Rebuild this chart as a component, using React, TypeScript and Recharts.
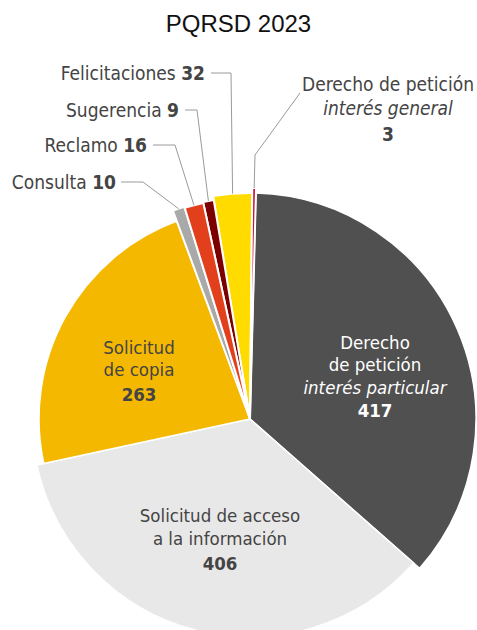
import { PieChart, Pie, Cell } from 'recharts'

const categories = [
  'Derecho de petición interés particular',
  'Solicitud de acceso a la información',
  'Solicitud de copia',
  'Consulta',
  'Reclamo',
  'Sugerencia',
  'Felicitaciones',
  'Derecho de petición interés general',
]
const values = [417, 406, 263, 10, 16, 9, 32, 3]

const COLORS = ['#505050', '#e8e8e8', '#f5b800', '#a9a9a9', '#e2401c', '#7d0000', '#ffdb00', '#c8143c']
const RADII = [226, 218, 211, 222, 221, 222, 226, 231]

const data = categories.map((name, i) => ({ name, value: values[i] }))

const FONT = "'DejaVu Sans Condensed', 'Liberation Sans Narrow', sans-serif"
const TEXT = '#444444'

// text lines inside the big slices: [text, style, y]
const innerLabels: Record<number, { x: number; color: string; lines: [string, string, number][] }> = {
  0: {
    x: 375,
    color: '#ffffff',
    lines: [['Derecho', 'normal', 342], ['de petición', 'normal', 364], ['interés particular', 'italic', 387], [String(values[0]), 'bold', 410]],
  },
  1: {
    x: 220,
    color: TEXT,
    lines: [['Solicitud de acceso', 'normal', 515], ['a la información', 'normal', 538], [String(values[1]), 'bold', 563]],
  },
  2: {
    x: 139,
    color: TEXT,
    lines: [['Solicitud', 'normal', 347], ['de copia', 'normal', 369], [String(values[2]), 'bold', 394]],
  },
}

// callouts for the thin slices: elbow point, end of the horizontal line, text position
const callouts: Record<number, { elbow: [number, number]; end: number; tx: number }> = {
  3: { elbow: [143, 182], end: 121, tx: 116 },
  4: { elbow: [175, 145], end: 153, tx: 147 },
  5: { elbow: [197, 110], end: 185, tx: 179 },
  6: { elbow: [231, 73], end: 211, tx: 205 },
}

const RAD = Math.PI / 180

const renderLabel = (props: any) => {
  const { cx, cy, midAngle, index } = props
  const r = RADII[index]
  const px = cx + r * Math.cos(-midAngle * RAD)
  const py = cy + r * Math.sin(-midAngle * RAD)

  const inner = innerLabels[index]
  if (inner) {
    return (
      <g key={`lbl-${index}`}>
        {inner.lines.map(([t, st, y], i) => (
          <text
            key={i}
            x={inner.x}
            y={y + 7}
            textAnchor="middle"
            fill={inner.color}
            fontFamily={FONT}
            fontSize={18.5}
            fontStyle={st === 'italic' ? 'italic' : 'normal'}
            fontWeight={st === 'bold' ? 700 : 400}
          >
            {t}
          </text>
        ))}
      </g>
    )
  }

  const c = callouts[index]
  if (c) {
    const [ex, ey] = c.elbow
    return (
      <g key={`lbl-${index}`}>
        <polyline points={`${px},${py} ${ex},${ey} ${c.end},${ey}`} fill="none" stroke="#9a9a9a" strokeWidth={1} />
        <text x={c.tx} y={ey + 7} textAnchor="end" fill={TEXT} fontFamily={FONT} fontSize={19}>
          {categories[index]} <tspan fontWeight={700}>{values[index]}</tspan>
        </text>
      </g>
    )
  }

  // Derecho de petición interés general
  return (
    <g key={`lbl-${index}`}>
      <polyline points={`${px},${py} 255,155 300,93`} fill="none" stroke="#9a9a9a" strokeWidth={1} />
      <text x={388} y={91} textAnchor="middle" fill={TEXT} fontFamily={FONT} fontSize={19}>
        Derecho de petición
      </text>
      <text x={388} y={115} textAnchor="middle" fill={TEXT} fontFamily={FONT} fontSize={19} fontStyle="italic">
        interés general
      </text>
      <text x={388} y={141} textAnchor="middle" fill={TEXT} fontFamily={FONT} fontSize={19} fontWeight={700}>
        {values[index]}
      </text>
    </g>
  )
}

const radiusGroups = Array.from(new Set(RADII))

export default function App() {
  return (
    <div style={{ position: 'absolute', left: 0, top: 0, width: 477, height: 630, background: '#fff' }}>
      <div
        style={{
          position: 'absolute',
          top: 10,
          width: 477,
          textAlign: 'center',
          fontFamily: "'Liberation Sans', Arial, sans-serif",
          fontSize: 24,
          color: '#111',
        }}
      >
        PQRSD 2023
      </div>
      <PieChart
        width={477}
        height={630}
        margin={{ top: 0, right: 0, bottom: 0, left: 0 }}
        style={{ position: 'absolute', left: 0, top: 0 }}
      >
        {radiusGroups.map((r) => (
          <Pie
            key={`pie-${r}`}
            data={data}
            dataKey="value"
            nameKey="name"
            cx={250}
            cy={419}
            innerRadius={0}
            outerRadius={r}
            startAngle={88.5}
            endAngle={-271.5}
            isAnimationActive={false}
          >
            {data.map((entry, i) => (
              <Cell
                key={`cell-${r}-${i}`}
                fill={RADII[i] === r ? COLORS[i] : 'transparent'}
                stroke={RADII[i] === r ? '#ffffff' : 'none'}
                strokeWidth={values[i] < 50 ? 2 : 1.5}
              />
            ))}
          </Pie>
        ))}
        <Pie
          data={data}
          dataKey="value"
          nameKey="name"
          cx={250}
          cy={419}
          innerRadius={0}
          outerRadius={226}
          startAngle={88.5}
          endAngle={-271.5}
          fill="transparent"
          stroke="none"
          label={renderLabel}
          labelLine={false}
          isAnimationActive={false}
        >
          {data.map((entry, i) => (
            <Cell key={`lc-${i}`} fill="transparent" stroke="none" />
          ))}
        </Pie>
      </PieChart>
    </div>
  )
}
